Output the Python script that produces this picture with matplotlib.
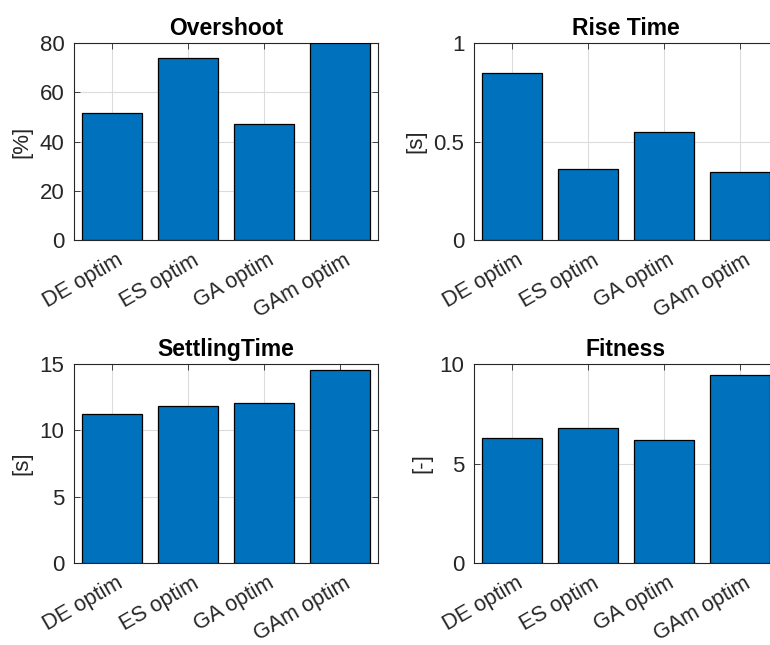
import matplotlib
matplotlib.use("Agg")
import matplotlib.pyplot as plt
from matplotlib.transforms import ScaledTranslation

categories = ["DE optim", "ES optim", "GA optim", "GAm optim"]
overshoot = [51.5, 73.9, 47.2, 80.0]
rise_time = [0.847, 0.358, 0.547, 0.346]
settling_time = [11.21, 11.86, 12.09, 14.52]
fitness = [6.28, 6.77, 6.20, 9.46]

titles = ["Overshoot", "Rise Time", "SettlingTime", "Fitness"]
ylabels = ["[%]", "[s]", "[s]", "[-]"]
yticks = [[0, 20, 40, 60, 80], [0, 0.5, 1], [0, 5, 10, 15], [0, 5, 10]]
yticklabels = [["0", "20", "40", "60", "80"], ["0", "0.5", "1"],
               ["0", "5", "10", "15"], ["0", "5", "10"]]
ylims = [(0, 80), (0, 1), (0, 15), (0, 10)]
series = [overshoot, rise_time, settling_time, fitness]

plt.rcParams["font.family"] = ["Liberation Sans", "DejaVu Sans"]
TXT = "#262626"
BAR = "#0072BD"

W, H = 770, 645
fig = plt.figure(figsize=(W / 100, H / 100), dpi=100)

# axes boxes in pixel coordinates: left, top, right, bottom
boxes = [(74, 43, 378, 240), (474, 43, 778, 240),
         (74, 364, 378, 563), (474, 364, 778, 563)]

# rotated category labels hang slightly right of and below each tick
label_offset = ScaledTranslation(3.5 / 100, -10 / 100, fig.dpi_scale_trans)

x = list(range(1, len(categories) + 1))
for i, (l, t, r, b) in enumerate(boxes):
    ax = fig.add_axes([l / W, 1 - b / H, (r - l) / W, (b - t) / H])
    ax.bar(x, series[i], width=0.8, color=BAR, edgecolor="black",
           linewidth=0.9, zorder=3)
    ax.set_xlim(0.5, 4.5)
    ax.set_ylim(*ylims[i])
    ax.set_xticks(x)
    ax.set_xticklabels([])
    for xi, name in zip(x, categories):
        ax.text(xi, 0, name, transform=ax.get_xaxis_transform() + label_offset,
                rotation=30, ha="right", va="top", rotation_mode="anchor",
                fontsize=15.5, color=TXT, clip_on=False)
    ax.set_yticks(yticks[i])
    ax.set_yticklabels(yticklabels[i])
    ax.grid(True, color="#dcdcdc", linewidth=0.8, zorder=0)
    ax.set_axisbelow(True)
    ax.tick_params(direction="in", length=4, width=0.6, colors=TXT,
                   labelsize=16, top=True, right=True)
    ax.tick_params(axis="y", pad=7)
    for sp in ax.spines.values():
        sp.set_color(TXT)
        sp.set_linewidth(0.8)
    ax.set_title(titles[i], fontsize=16.5, fontweight="bold", color="black",
                 pad=6)
    ax.set_ylabel(ylabels[i], fontsize=16, color=TXT, labelpad=5)

fig.savefig("out.png", dpi=100, facecolor="white")
